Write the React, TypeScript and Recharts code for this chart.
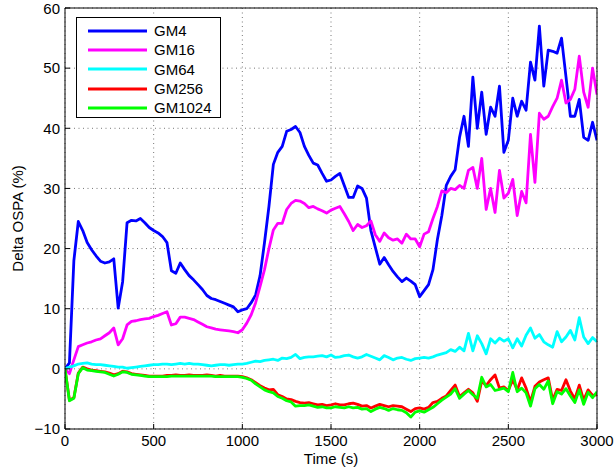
import React from 'react';
import { LineChart, Line, XAxis, YAxis, CartesianGrid, Legend } from 'recharts';

// sample times (s)
const TIME = [
  0, 25, 50, 75, 100, 125, 150, 175, 200, 225,
  250, 275, 300, 325, 350, 375, 400, 425, 450, 475,
  500, 525, 550, 575, 600, 625, 650, 675, 700, 725,
  750, 775, 800, 825, 850, 875, 900, 925, 950, 975,
  1000, 1025, 1050, 1075, 1100, 1125, 1150, 1175, 1200, 1225,
  1250, 1275, 1300, 1325, 1350, 1375, 1400, 1425, 1450, 1475,
  1500, 1525, 1550, 1575, 1600, 1625, 1650, 1675, 1700, 1725,
  1750, 1775, 1800, 1825, 1850, 1875, 1900, 1925, 1950, 1975,
  2000, 2025, 2050, 2075, 2100, 2125, 2150, 2175, 2200, 2225,
  2250, 2275, 2300, 2325, 2350, 2375, 2400, 2425, 2450, 2475,
  2500, 2525, 2550, 2575, 2600, 2625, 2650, 2675, 2700, 2725,
  2750, 2775, 2800, 2825, 2850, 2875, 2900, 2925, 2950, 2975,
  3000,
];

const GM4 = [
  0, 1, 18, 24.5, 23, 21, 19.8, 18.8, 17.9, 17.6,
  17.8, 18.3, 10.1, 14.5, 24.3, 24.7, 24.6, 25, 24.3, 23.5,
  23, 22.6, 22, 21, 16.3, 15.9, 17.6, 16.5, 15.5, 14.8,
  14, 13.2, 12.2, 11.7, 11.5, 11.2, 10.9, 10.6, 10.3, 9.5,
  9.8, 10, 11, 12.3, 15.5, 21, 27, 34, 36, 37,
  39.5, 39.8, 40.3, 39.3, 37, 35.5, 34.2, 33.9, 32.5, 31.2,
  31.4, 32, 32.5, 30.5, 28.5, 28.5, 30.4, 30, 28.4, 23,
  20.2, 17.4, 18.5, 17.3, 16.2, 15.3, 14.5, 15.1, 14.6, 14,
  12, 13, 14, 16.5, 21.5, 25.5, 30.5, 32, 33.1, 38.5,
  42, 37, 48.5, 40, 46, 39, 43.5, 42, 47, 36,
  38, 45, 42, 44.5, 43, 51, 48, 57, 47, 53,
  52.8, 52.5, 55, 48.6, 42, 42, 44.8, 38.5, 38, 41,
  38,
];

const GM16 = [
  0, -0.8, 1.5, 3.7, 4, 4.3, 4.5, 4.8, 5, 5.5,
  6, 6.8, 4, 5, 7.3, 7.9, 8, 8.2, 8.3, 8.4,
  8.7, 8.9, 9.2, 9.5, 7.3, 7.5, 8.6, 8.6, 8.4, 8.2,
  7.8, 7.4, 7, 6.8, 6.6, 6.5, 6.4, 6.3, 6.2, 6,
  6.5, 7.6, 9, 11, 13.7, 16.5, 20, 23.1, 24.2, 24.2,
  26.5, 27.5, 28, 27.9, 27.5, 26.8, 27, 26.6, 26.3, 25.9,
  26.4, 26.7, 27, 25.8, 24.5, 23, 24, 23.5, 23.8, 24.6,
  22.3, 21.2, 22.6, 21.8, 21.4, 21.6, 20.9, 22.4, 21.6, 21.6,
  20.3, 22.4, 22.8, 25, 27, 29.6, 29.3, 30, 29.8, 30.5,
  30, 33, 33.5, 30, 35, 26.5, 30, 26, 33, 28.4,
  29.2, 31.5, 25.5, 29.5, 27.6, 39, 31, 42.5, 41.5, 42,
  43.6, 45, 48, 44.2, 44.8, 46.5, 52, 46, 43.5, 50,
  45.6,
];

const GM64 = [
  0, 0.3, 0.5, 0.8, 0.9, 1, 0.8, 0.7, 0.7, 0.6,
  0.5, 0.4, 0.3, 0.3, 0.1, 0.2, 0.3, 0.4, 0.5, 0.6,
  0.7, 0.7, 0.8, 0.8, 0.7, 0.8, 0.9, 0.8, 0.9, 0.8,
  0.8, 0.7, 0.6, 0.5, 0.6, 0.7, 0.7, 0.6, 0.7, 0.8,
  0.8, 0.9, 1.1, 1.3, 1.2, 1.4, 1.5, 1.6, 1.4, 1.8,
  1.7, 1.9, 2.4, 1.7, 1.9, 2, 2, 2.1, 2.2, 2,
  2.3, 1.9, 2, 2.2, 2.3, 2, 1.8, 2, 2.4, 2.1,
  1.8, 1.5, 2.2, 1.9, 1.5, 1.8, 1.9, 1.6, 1.4, 1.7,
  1.8, 1.9, 1.8, 2, 2.3, 2.5, 2.7, 3.2, 2.9, 3.6,
  3, 5.9, 3, 5.5, 4.2, 2.5, 5, 4.3, 5.1, 4.6,
  5, 3.5, 5, 3.8, 5.6, 6.8, 5.1, 5.7, 4.5, 4,
  3.6, 6.2, 4.5, 5.3, 6.4, 4.8, 8.5, 5.3, 4.2, 5.2,
  4.5,
];

const GM256 = [
  0, -5.2, -4.8, -0.7, 0.3, 0, -0.2, -0.3, -0.4, -0.5,
  -0.7, -1, -0.8, -0.4, -0.5, -0.8, -0.9, -1, -1.1, -1.2,
  -1.2, -1.2, -1.2, -1.1, -1.1, -1, -1.1, -1.1, -1, -1.1,
  -1.1, -1.1, -1, -1.1, -1.2, -1.1, -1.2, -1.2, -1.2, -1.2,
  -1.3, -1.5, -1.8, -2.3, -2.8, -3.2, -3.5, -3.4, -4.3, -4.6,
  -5, -5.1, -5.4, -5.6, -5.7, -5.6, -5.8, -6, -5.9, -6.1,
  -6, -5.8, -6, -6, -5.8, -5.7, -5.9, -6.2, -6.1, -6.5,
  -6.2, -5.9, -6.1, -6.3, -6.1, -6.2, -6.3, -6.7, -7.1, -6.6,
  -6.5, -6.7, -6.4, -5.6, -5.4, -4.9, -4.5, -3.6, -2.7, -4.6,
  -4, -3.4, -4, -5.4, -2, -2.8, -1.8, -1, -3.2, -3,
  -3.6, -1.8, -3.5, -1.5, -3.2, -5.5, -2.9, -2.2, -1.8, -1.5,
  -5.2, -3.4, -3.6, -1.8, -3.7, -5, -2.7, -5.2, -3.5, -4.4,
  -4.3,
];

const GM1024 = [
  0, -5.3, -4.9, -0.8, 0.2, -0.2, -0.3, -0.4, -0.5, -0.6,
  -0.9, -1.2, -0.9, -0.5, -0.6, -0.9, -1, -1.1, -1.2, -1.3,
  -1.3, -1.3, -1.3, -1.3, -1.2, -1.2, -1.2, -1.2, -1.2, -1.2,
  -1.2, -1.2, -1.2, -1.2, -1.3, -1.3, -1.3, -1.3, -1.3, -1.3,
  -1.4, -1.6, -1.9, -2.5, -3, -3.5, -3.8, -4, -4.6, -4.9,
  -5.3, -5.5, -6.2, -6.1, -6.1, -6, -6.2, -6.4, -6.3, -6.5,
  -6.5, -6.3, -6.4, -6.5, -6.3, -6.5, -6.4, -6.7, -6.6, -7.1,
  -6.7, -6.4, -6.6, -6.9, -6.6, -6.8, -6.9, -7.3, -8, -7.2,
  -7, -7.2, -6.8, -6.4, -5.8, -5.2, -4.7, -4.2, -3.3, -4.9,
  -4.2, -3.6, -4.3, -4.9, -1.4, -3, -2.6, -3.6, -3.4, -3.2,
  -3.8, -0.6, -3.8, -3.2, -4, -6.2, -3.3, -2.6, -3.4, -2,
  -5.8, -3.8, -4.2, -3.3, -4.5, -5.6, -3.5, -5.9, -3.9, -4.8,
  -3.8,
];

const X_TICKS = [0, 500, 1000, 1500, 2000, 2500, 3000];
const Y_TICKS = [-10, 0, 10, 20, 30, 40, 50, 60];

const SERIES = [
  { key: 'gm4', name: 'GM4', color: '#0000ff' },
  { key: 'gm16', name: 'GM16', color: '#ff00ff' },
  { key: 'gm64', name: 'GM64', color: '#00ffff' },
  { key: 'gm256', name: 'GM256', color: '#ff0000' },
  { key: 'gm1024', name: 'GM1024', color: '#00ff00' },
];

const data = TIME.map((t, i) => ({
  t,
  gm4: GM4[i],
  gm16: GM16[i],
  gm64: GM64[i],
  gm256: GM256[i],
  gm1024: GM1024[i],
}));

const FONT = "'Liberation Sans', Arial, Helvetica, sans-serif";
const tickStyle = { fontSize: 15, fill: '#000', fontFamily: FONT };
const labelStyle = { fontSize: 15, fill: '#000', fontFamily: FONT };
const fmt = (v: number) => (v < 0 ? `\u2212${Math.abs(v)}` : `${v}`);

// legend in plot order (recharts sorts payload by name otherwise)
const LegendBox = () => (
  <div
    style={{
      border: '1px solid #000',
      background: '#fff',
      width: 145,
      height: 101,
      paddingTop: 3,
      boxSizing: 'border-box',
      fontFamily: FONT,
      fontSize: 15,
      color: '#000',
    }}
  >
    {SERIES.map((s) => (
      <div key={s.key} style={{ display: 'flex', alignItems: 'center', height: 19.3 }}>
        <svg width={59} height={4} style={{ marginLeft: 11, marginRight: 7 }}>
          <line x1={0} y1={2} x2={59} y2={2} stroke={s.color} strokeWidth={3} />
        </svg>
        <span>{s.name}</span>
      </div>
    ))}
  </div>
);

export default function App() {
  return (
    <div style={{ position: 'absolute', left: 0, top: 0, width: 614, height: 474, background: '#fff' }}>
      <LineChart width={614} height={474} data={data} margin={{ top: 7, right: 16, bottom: 0, left: 0 }}>
        <CartesianGrid stroke="#777" strokeDasharray="1 3.5" />
        <XAxis
          dataKey="t"
          type="number"
          domain={[0, 3000]}
          ticks={X_TICKS}
          allowDataOverflow
          height={45}
          tickSize={-5}
          tickMargin={11}
          tick={tickStyle}
          stroke="#000"
          label={{ value: 'Time (s)', position: 'insideBottom', offset: 10, style: labelStyle }}
        />
        <XAxis
          xAxisId="top"
          orientation="top"
          dataKey="t"
          type="number"
          domain={[0, 3000]}
          ticks={X_TICKS}
          allowDataOverflow
          height={1}
          tickSize={-5}
          tick={false}
          stroke="#000"
        />
        <YAxis
          type="number"
          domain={[-10, 60]}
          ticks={Y_TICKS}
          allowDataOverflow
          width={65}
          tickSize={-5}
          tickMargin={10}
          tick={tickStyle}
          tickFormatter={fmt}
          stroke="#000"
          label={{
            value: 'Delta OSPA (%)',
            angle: -90,
            position: 'insideLeft',
            offset: 18,
            style: { ...labelStyle, textAnchor: 'middle' },
          }}
        />
        <YAxis
          yAxisId="right"
          orientation="right"
          type="number"
          domain={[-10, 60]}
          ticks={Y_TICKS}
          allowDataOverflow
          width={1}
          tickSize={-5}
          tick={false}
          stroke="#000"
        />
        <Legend
          layout="vertical"
          align="center"
          verticalAlign="middle"
          content={<LegendBox />}
          wrapperStyle={{ left: 76, top: 17, width: 145, height: 101 }}
        />
        {SERIES.map((s, i) => (
          <Line
            key={s.key}
            xAxisId={i === 0 ? 'top' : 0}
            yAxisId={i === 0 ? 'right' : 0}
            type="linear"
            dataKey={s.key}
            name={s.name}
            stroke={s.color}
            strokeWidth={2.8}
            strokeLinejoin="round"
            dot={false}
            activeDot={false}
            isAnimationActive={false}
          />
        ))}
      </LineChart>
    </div>
  );
}
